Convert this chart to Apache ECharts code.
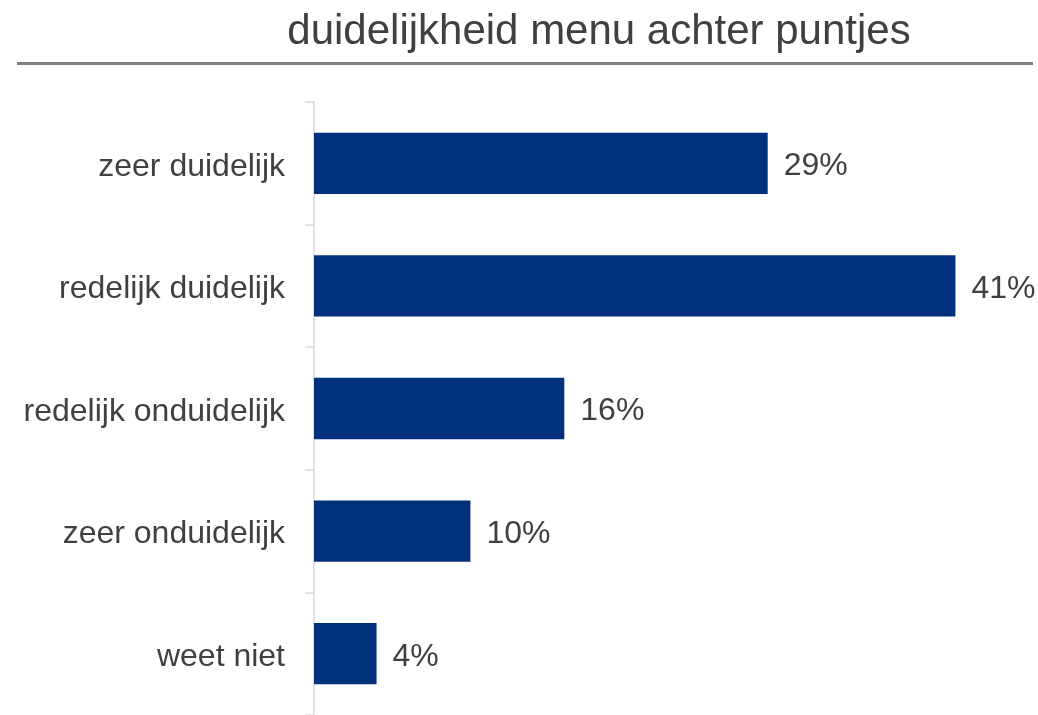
<!DOCTYPE html>
<html>
<head>
<meta charset="utf-8">
<script src="https://cdn.jsdelivr.net/npm/echarts@6/dist/echarts.min.js"></script>
<style>
  html, body { margin: 0; padding: 0; background: #ffffff; }
  #chart { width: 1038px; height: 715px; }
</style>
</head>
<body>
<div id="chart"></div>
<script>
// Survey answers: how clear is the menu behind the dots
const chartTitle = 'duidelijkheid menu achter puntjes';
const categories = ['zeer duidelijk', 'redelijk duidelijk', 'redelijk onduidelijk', 'zeer onduidelijk', 'weet niet'];
const percentages = [29, 41, 16, 10, 4];

const textColor = '#404040';
const barColor = '#01307c';
const fontFamily = '"Liberation Sans", Arial, sans-serif';

const chart = echarts.init(document.getElementById('chart'), null, { renderer: 'canvas' });

chart.setOption({
  backgroundColor: '#ffffff',
  animation: false,
  graphic: [
    {
      type: 'text',
      x: 599,
      y: 32,
      style: {
        text: chartTitle,
        fill: textColor,
        font: '42px ' + fontFamily,
        textAlign: 'center',
        textVerticalAlign: 'middle'
      }
    },
    {
      type: 'line',
      shape: { x1: 17, y1: 63.5, x2: 1033, y2: 63.5 },
      style: { stroke: '#808080', lineWidth: 3 }
    }
  ],
  grid: {
    left: 314,
    right: 20,
    top: 102,
    bottom: -5
  },
  xAxis: {
    type: 'value',
    min: 0,
    max: 45,
    show: false
  },
  yAxis: {
    type: 'category',
    data: categories,
    inverse: true,
    axisLine: { show: true, lineStyle: { color: '#d9d9d9', width: 1.5 } },
    axisTick: { show: true, length: 9, lineStyle: { color: '#d9d9d9', width: 1.5 } },
    axisLabel: {
      margin: 29,
      formatter: (v) => '{c|' + v + '}',
      rich: {
        c: {
          color: textColor,
          fontSize: 32,
          fontFamily: fontFamily,
          padding: [7, 0, 0, 0]
        }
      }
    },
    splitLine: { show: false }
  },
  series: [
    {
      type: 'bar',
      data: percentages,
      barCategoryGap: '50%',
      itemStyle: { color: barColor },
      label: {
        show: true,
        position: 'right',
        distance: 16,
        offset: [0, 3],
        color: textColor,
        fontSize: 32,
        fontFamily: fontFamily,
        formatter: (p) => p.value + '%'
      }
    }
  ]
});
</script>
</body>
</html>
